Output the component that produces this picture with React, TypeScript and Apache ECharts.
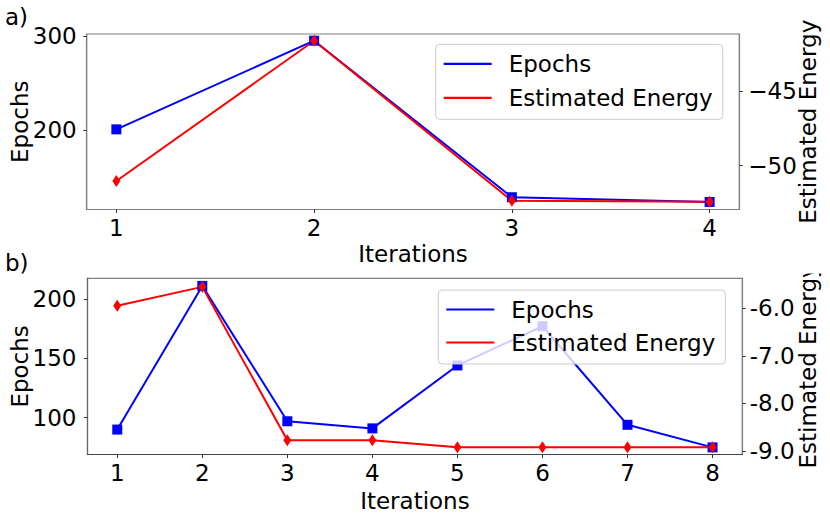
import React, { useEffect, useRef } from "react";
import * as echarts from "echarts";

// ---- data ----
const itersA = [1, 2, 3, 4];
const epochsA = [201, 295, 129, 124];
const energyA = [-51.02, -41.63, -52.34, -52.41];

const itersB = [1, 2, 3, 4, 5, 6, 7, 8];
const epochsB = [90, 211, 97, 91, 144, 177, 94, 75];
const energyB = [-5.945, -5.55, -8.775, -8.775, -8.92, -8.92, -8.92, -8.92];

const ticksALeft = [200, 300];
const ticksARight = [-50, -45];
const ticksBLeft = [100, 150, 200];
const ticksBRight = [-9, -8, -7, -6];

const seriesNames = ["Epochs", "Estimated Energy"];

const FONT = "DejaVu Sans";
const FS = 23;
const BLUE = "#0000ff";
const RED = "#ff0000";
const SPINE = "#808080";

function xAxisCfg(gridIndex: number, min: number, max: number, ticks: number[], nameGap: number, lineColor: string) {
  return {
    gridIndex,
    type: "value",
    min,
    max,
    name: "Iterations",
    nameLocation: "middle",
    nameGap,
    nameMoveOverlap: false,
    nameTextStyle: { fontFamily: FONT, fontSize: FS, color: "#000" },
    axisLine: { show: true, lineStyle: { color: lineColor, width: 1.2 } },
    axisTick: { show: true, customValues: ticks, length: 3.5, lineStyle: { color: "#333" } },
    axisLabel: {
      customValues: ticks,
      fontFamily: FONT,
      fontSize: FS,
      color: "#000",
      margin: 7,
      formatter: (v: number) => String(v),
    },
    splitLine: { show: false },
  };
}

function yAxisCfg(
  gridIndex: number,
  position: string,
  min: number,
  max: number,
  ticks: number[],
  name: string,
  nameGap: number,
  margin: number,
  formatter: (v: number) => string,
  lineColor: string
) {
  return {
    gridIndex,
    type: "value",
    position,
    min,
    max,
    name,
    nameLocation: "middle",
    nameGap,
    nameMoveOverlap: false,
    nameTextStyle: { fontFamily: FONT, fontSize: FS, color: "#000" },
    axisLine: { show: true, onZero: false, lineStyle: { color: lineColor, width: 1.2 } },
    axisTick: { show: true, customValues: ticks, length: 3.5, lineStyle: { color: "#333" } },
    axisLabel: {
      customValues: ticks,
      fontFamily: FONT,
      fontSize: FS,
      color: "#000",
      margin,
      formatter,
    },
    splitLine: { show: false },
  };
}

function legendCfg(left: number, top: number, padding: number[], itemGap: number) {
  return {
    orient: "vertical",
    left,
    top,
    padding,
    itemGap,
    itemWidth: 48,
    itemHeight: 2.2,
    icon: "rect",
    backgroundColor: "rgba(255,255,255,0.8)",
    borderColor: "#cccccc",
    borderWidth: 1,
    borderRadius: 4,
    selectedMode: false,
    textStyle: { fontFamily: FONT, fontSize: FS, color: "#000", padding: [0, 0, 0, 12] },
    data: seriesNames,
  };
}

function lineSeries(name: string, xIdx: number, yIdx: number, xs: number[], ys: number[], color: string, symbol: string, symbolSize: any) {
  return {
    type: "line",
    name,
    xAxisIndex: xIdx,
    yAxisIndex: yIdx,
    data: xs.map((x, i) => [x, ys[i]]),
    symbol,
    symbolSize,
    showAllSymbol: true,
    lineStyle: { color, width: 2 },
    itemStyle: { color },
    emphasis: { disabled: true },
  };
}

const minusFmt = (v: number) => (v < 0 ? "\u2212" + Math.abs(v) : String(v));

export default function App() {
  const ref = useRef<HTMLDivElement>(null);
  useEffect(() => {
    if (!ref.current) return;
    const chart = echarts.init(ref.current, null, { renderer: "svg" });
    chart.setOption({
      animation: false,
      backgroundColor: "#ffffff",
      grid: [
        { left: 86.7, top: 34, width: 652.6, height: 175.5, show: true, borderColor: SPINE, borderWidth: 1.2, backgroundColor: "transparent", containLabel: false, outerBoundsMode: "none" },
        { left: 87.5, top: 278.3, width: 654.8, height: 176.2, show: true, borderColor: SPINE, borderWidth: 1.2, backgroundColor: "transparent", containLabel: false, outerBoundsMode: "none" },
      ],
      xAxis: [xAxisCfg(0, 0.85, 4.15, itersA, 33, SPINE), xAxisCfg(1, 0.65, 8.35, itersB, 35, "#444444")],
      yAxis: [
        yAxisCfg(0, "left", 116, 302.1, ticksALeft, "Epochs", 55.5, 10, (v) => String(v), SPINE),
        yAxisCfg(0, "right", -52.93, -41.18, ticksARight, "Estimated Energy", 57, 9, minusFmt, SPINE),
        yAxisCfg(1, "left", 69, 217.4, ticksBLeft, "Epochs", 56, 11, (v) => String(v), "#666666"),
        yAxisCfg(1, "right", -9.074, -5.37, ticksBRight, "Estimated Energy", 54, 7.5, (v) => v.toFixed(1), SPINE),
      ],
      legend: [legendCfg(435.7, 44.3, [8, 10, 10, 8], 11), legendCfg(438.3, 290, [8, 10, 10, 8], 10)],
      series: [
        lineSeries("Epochs", 0, 0, itersA, epochsA, BLUE, "rect", 10),
        lineSeries("Estimated Energy", 0, 1, itersA, energyA, RED, "diamond", [8, 12]),
        lineSeries("Epochs", 1, 2, itersB, epochsB, BLUE, "rect", 10),
        lineSeries("Estimated Energy", 1, 3, itersB, energyB, RED, "diamond", [8, 12]),
      ],
      graphic: [
        { type: "text", left: 5, top: 5, z: 100, style: { text: "a)", fontFamily: FONT, fontSize: FS, fill: "#000" } },
        { type: "text", left: 5, top: 251, z: 100, style: { text: "b)", fontFamily: FONT, fontSize: FS, fill: "#000" } },
        { type: "rect", left: 792, top: 250, z: 100, shape: { width: 38, height: 23.5 }, style: { fill: "#ffffff" } },
      ],
    });
    return () => chart.dispose();
  }, []);
  return <div ref={ref} style={{ position: "absolute", left: 0, top: 0, width: 830, height: 523 }} />;
}
